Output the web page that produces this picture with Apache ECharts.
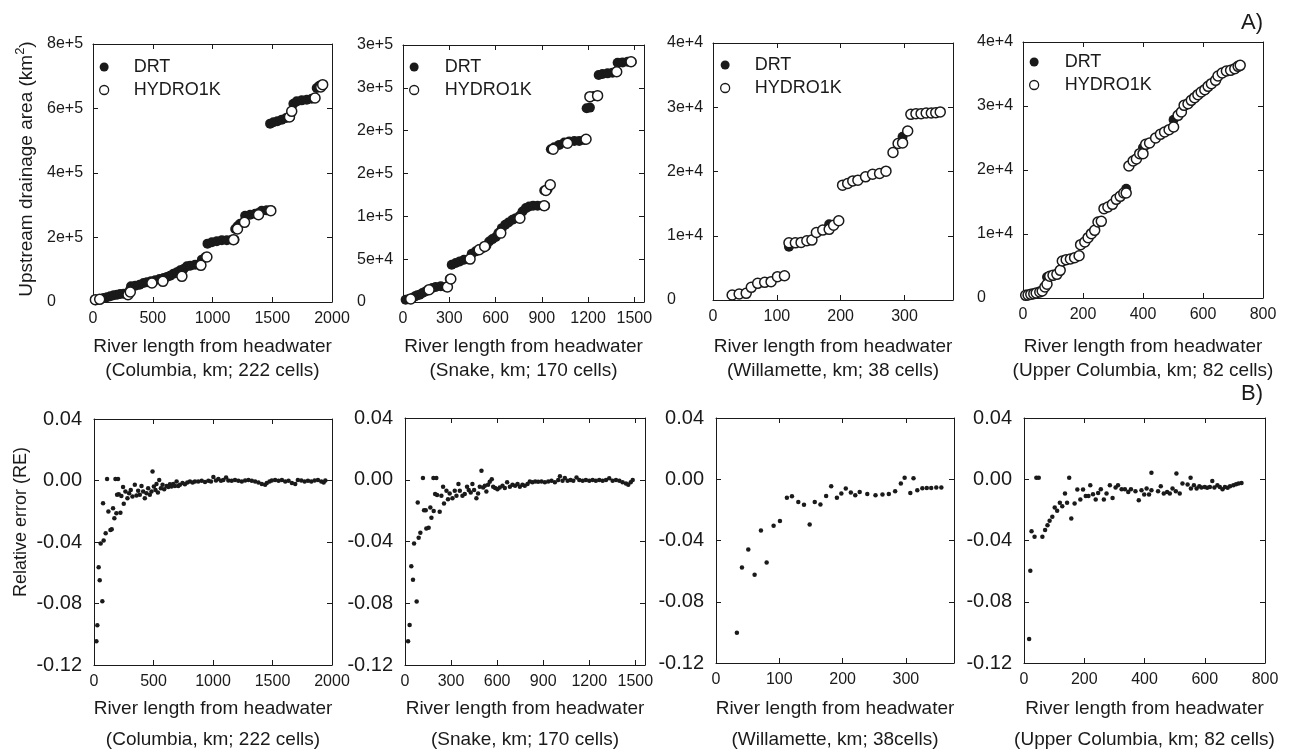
<!DOCTYPE html>
<html>
<head>
<meta charset="utf-8">
<script src="https://cdn.jsdelivr.net/npm/echarts@6/dist/echarts.min.js"></script>
<style>
html,body{margin:0;padding:0;background:#fff;}
#chart{width:1298px;height:750px;}
</style>
</head>
<body>
<div id="chart"></div>
<script>
// ---------------- DATA ----------------
// A) Upstream drainage area (km^2) vs river length (km)
const colX = [20,39,61,89,117,145,173,201,228,256,284,306,318,354,390,423,451,485,521,557,591,618,646,674,702,730,758,786,814,855,897,911,939,958,995,1036,1078,1120,1162,1184,1190,1209,1231,1273,1315,1357,1385,1412,1454,1488,1482,1510,1543,1580,1616,1649,1663,1677,1705,1747,1789,1830,1858,1872,1894,1922];
const colDRT = [5200,7200,9300,12400,14500,17600,20700,22700,24800,25800,25800,35100,48600,50600,53700,58900,61000,64100,67200,71300,74400,77500,81700,87900,92000,98200,102300,110600,112700,115800,114700,131300,138500,180900,185000,188100,191200,191200,193300,193300,226400,234600,242900,267700,270800,273900,276000,283200,284200,284200,553000,557100,560200,565400,570500,573600,591200,615000,622200,625300,627400,630500,632600,663600,670800,673900];
const colHydroX = [20,56,293,312,493,585,744,903,953,1176,1209,1268,1385,1488,1644,1663,1858,1906,1922];
const colHydro = [7200,8300,22700,31000,58900,64100,79600,113700,139500,193300,226400,247000,270800,283200,573600,591200,632600,666700,673900];

const snX = [17,39,61,78,93,108,126,147,169,190,212,245,277,288,303,316,342,368,396,429,446,472,498,520,541,559,580,602,619,641,663,684,710,732,758,775,797,818,844,873,905,922,916,938,953,959,981,1013,1046,1078,1111,1143,1176,1187,1191,1212,1219,1240,1262,1269,1294,1327,1359,1381,1392,1424,1457,1483];
const snDRT = [2700,3500,4700,6600,7800,8500,10500,12400,14400,16300,17500,18300,17500,17500,26800,43500,45500,47400,49300,50100,56300,59100,61800,63000,65700,70700,73400,75800,80400,86200,90100,92900,96000,97900,100600,105700,109600,111500,112300,112300,112300,112300,130100,131700,136800,178300,180700,183400,186100,187300,188000,188000,189200,190000,226100,226900,239700,240500,240900,265000,266100,266900,267700,268800,279300,279700,280500,280500];
const snHydroX = [50,169,288,310,435,494,530,634,758,916,927,955,974,1067,1187,1212,1262,1386,1479];
const snHydro = [3500,14400,17500,26800,50100,61000,64900,80400,97900,112300,130100,136800,178300,185300,190000,239700,240900,268800,280500];

const wiX = [30,41,52,60,70,81,91,101,112,119,129,138,147,155,162,172,182,189,197,203,211,219,227,239,250,261,271,282,290,297,305,310,318,326,334,342,349,356];
const wiDRT = [780,930,1040,1970,2590,2750,2850,3630,3780,8290,8900,8960,9220,9320,10500,10880,11800,11650,12330,17870,18130,18540,18650,19170,19580,19680,20050,22950,24350,25400,26300,28900,29000,29000,29100,29100,29160,29270];
const wiHydro = [780,930,1040,1970,2590,2750,2850,3630,3780,8900,8900,8960,9220,9320,10500,10880,11000,11650,12330,17870,18130,18540,18650,19170,19580,19680,20050,22950,24350,24450,26300,28900,29000,29000,29100,29100,29160,29270];

const ucX = [9,17,26,36,44,56,64,73,80,89,100,113,124,131,144,158,172,187,192,206,217,228,239,250,261,270,283,298,311,324,336,344,353,367,378,389,400,409,422,442,458,472,487,502,517,528,537,550,561,572,583,594,606,617,628,642,650,664,678,692,706,717,724];
const ucDRT = [420,470,570,680,780,940,1090,1720,3280,3390,3540,3700,4320,5780,5990,6090,6300,6610,8330,8750,9430,10050,10570,11870,11980,13960,14220,14630,15420,15880,16400,17080,20620,21400,21720,22550,23500,24010,24220,25000,25570,25940,26300,27860,28540,29060,30100,30360,30880,31300,31770,32190,32550,33070,33490,34010,34690,35160,35470,35570,35830,36200,36350];
const ucHydro = [420,470,570,680,780,940,1090,1720,2140,3390,3540,3700,4320,5780,5990,6090,6300,6610,8330,8750,9430,10050,10570,11870,11980,13960,14220,14630,15420,15880,16400,16400,20620,21400,21720,22550,22550,24010,24220,25000,25570,25940,26300,26720,28540,29060,30100,30360,30880,31300,31770,32190,32550,33070,33490,34010,34690,35160,35470,35570,35830,36200,36350];

// B) Relative error (RE) vs river length (km)
const colReX = [20,28,39,48,56,70,81,76,98,110,121,138,149,160,171,180,188,202,194,208,222,230,244,250,264,281,295,309,323,343,357,371,385,399,413,427,441,455,469,483,492,503,517,525,537,548,562,576,590,610,624,638,652,666,680,694,708,722,744,764,784,806,829,848,876,905,933,961,983,1003,1025,1045,1067,1087,1110,1129,1157,1185,1213,1242,1270,1298,1326,1354,1382,1410,1438,1452,1475,1494,1522,1551,1579,1607,1635,1663,1691,1713,1742,1770,1798,1826,1854,1882,1910,1930,1944];
const colRe = [-0.1046,-0.0941,-0.0565,-0.0648,-0.0409,-0.0785,-0.0391,-0.0148,-0.0343,0.0009,-0.0202,-0.0322,-0.0317,-0.0180,-0.0246,0.0009,-0.0213,0.0009,-0.0093,-0.0089,-0.0209,-0.0100,-0.0043,-0.0152,-0.0072,-0.0115,-0.0083,-0.0061,-0.0104,-0.0028,-0.0098,-0.0067,-0.0093,-0.0035,-0.0072,-0.0115,-0.0083,-0.0050,-0.0093,-0.0072,0.0059,-0.0039,-0.0061,-0.0022,-0.0078,0.0004,-0.0050,-0.0028,-0.0057,-0.0035,-0.0043,-0.0024,-0.0039,-0.0022,-0.0035,-0.0007,-0.0035,-0.0028,-0.0017,-0.0024,-0.0013,-0.0007,-0.0013,-0.0007,-0.0007,-0.0002,-0.0009,-0.0002,-0.0007,0.0022,0,0.0009,-0.0002,0.0004,0.0020,0,-0.0002,0.0004,-0.0002,-0.0007,0,0.0004,-0.0002,-0.0007,-0.0013,-0.0022,-0.0028,-0.0017,-0.0007,0,0.0004,-0.0002,0.0004,-0.0007,-0.0002,-0.0017,-0.0022,0.0004,0,-0.0007,-0.0002,-0.0007,0,0.0004,-0.0007,-0.0013,0];

const snReX = [20,30,41,52,59,76,83,89,100,117,124,135,139,154,165,172,185,187,196,204,209,226,237,248,254,270,280,291,309,324,335,348,357,374,389,404,415,428,439,450,465,476,487,498,509,520,530,541,552,565,574,587,602,617,635,650,665,683,700,717,733,748,765,780,798,813,830,848,867,889,911,933,954,976,998,1009,1026,1041,1059,1078,1096,1117,1135,1157,1178,1200,1222,1243,1265,1287,1309,1330,1352,1374,1396,1417,1439,1454,1470,1483];
const snRe = [-0.1046,-0.0941,-0.0561,-0.0648,-0.0413,-0.0789,-0.0148,-0.0376,-0.0343,0.0011,-0.0198,-0.0198,-0.0315,-0.0311,-0.0180,-0.0246,0.0011,-0.0202,-0.0093,0.0011,-0.0098,-0.0207,-0.0104,-0.0046,-0.0154,-0.0072,-0.0126,-0.0089,-0.0120,-0.0072,-0.0104,-0.0028,-0.0072,-0.0104,-0.0093,-0.0046,-0.0067,-0.0083,-0.0028,-0.0067,-0.0120,-0.0089,-0.0046,0.0059,-0.0050,-0.0039,-0.0076,-0.0033,-0.0013,0.0004,-0.0046,-0.0054,-0.0061,-0.0050,-0.0039,-0.0054,-0.0017,-0.0046,-0.0033,-0.0039,-0.0028,-0.0046,-0.0033,-0.0039,-0.0028,-0.0011,-0.0017,-0.0011,-0.0013,-0.0011,-0.0017,-0.0011,-0.0007,-0.0017,-0.0002,0.0022,-0.0007,0.0011,-0.0007,-0.0002,-0.0007,0.0015,-0.0002,-0.0007,-0.0002,-0.0007,-0.0002,-0.0007,-0.0002,-0.0007,-0.0002,0.0009,-0.0007,-0.0002,-0.0007,-0.0017,-0.0024,-0.0033,-0.0017,-0.0002];

const wiReX = [33,41,51,61,71,80,91,101,112,120,130,139,148,156,165,174,182,191,198,205,213,220,227,239,252,263,273,283,292,298,307,312,318,326,333,340,348,356];
const wiRe = [-0.1002,-0.0576,-0.0459,-0.0624,-0.0335,-0.0544,-0.0304,-0.0272,-0.0120,-0.0111,-0.0148,-0.0167,-0.0296,-0.0148,-0.0165,-0.0109,-0.0046,-0.0120,-0.0093,-0.0061,-0.0087,-0.0104,-0.0083,-0.0096,-0.0104,-0.0100,-0.0096,-0.0078,-0.0028,0.0009,-0.0089,0.0007,-0.0072,-0.0059,-0.0057,-0.0057,-0.0054,-0.0054];

const ucReX = [17,21,25,35,41,49,61,70,78,85,94,102,110,119,127,136,143,150,157,168,177,187,196,205,214,220,229,238,246,255,265,274,285,294,304,312,324,335,346,355,370,381,390,399,407,415,423,423,445,454,464,475,484,493,504,506,517,526,543,553,554,564,573,582,589,600,608,617,625,632,642,650,659,667,676,684,695,704,712,722];
const ucRe = [-0.1044,-0.0597,-0.0339,-0.0376,0.0009,0.0009,-0.0376,-0.0332,-0.0300,-0.0271,-0.0245,-0.0185,-0.0206,-0.0154,-0.0176,-0.0093,-0.0154,0.0009,-0.0256,-0.0158,-0.0067,-0.0132,-0.0067,-0.0109,-0.0109,-0.0039,-0.0098,-0.0132,-0.0089,-0.0065,-0.0132,-0.0093,-0.0039,-0.0122,-0.0054,-0.0039,-0.0065,-0.0065,-0.0083,-0.0065,-0.0078,-0.0137,-0.0072,-0.0100,-0.0061,-0.0100,0.0043,-0.0072,-0.0078,-0.0046,-0.0093,-0.0083,-0.0093,-0.0061,-0.0078,0.0037,-0.0093,-0.0028,-0.0035,0.0009,-0.0061,-0.0039,-0.0061,-0.0046,-0.0054,-0.0050,-0.0056,-0.0050,-0.0011,-0.0054,-0.0039,-0.0050,-0.0065,-0.0050,-0.0056,-0.0046,-0.0039,-0.0033,-0.0028,-0.0024];

// Tick labels
const colAreaTicks = ['0','2e+5','4e+5','6e+5','8e+5'];
const snAreaTicks = ['0','5e+4','1e+5','2e+5','2e+5','3e+5','3e+5'];
const wiAreaTicks = ['0','1e+4','2e+4','3e+4','4e+4'];
const ucAreaTicks = ['0','1e+4','2e+4','3e+4','4e+4'];
const reTicks = ['-0.12','-0.08','-0.04','0.00','0.04'];

// Texts
const xTitle = 'River length from headwater';
const topSubtitles = ['(Columbia, km; 222 cells)','(Snake, km; 170 cells)','(Willamette, km; 38 cells)','(Upper Columbia, km; 82 cells)'];
const bottomSubtitles = ['(Columbia, km; 222 cells)','(Snake, km; 170 cells)','(Willamette, km; 38cells)','(Upper Columbia, km; 82 cells)'];

// ---------------- CHART ----------------
const FONT = '"Liberation Sans", Arial, Helvetica, sans-serif';
const INK = '#1a1a1a';
const zip = (xs, ys) => xs.map((x, i) => [x, ys[i]]);

const panels = [
  {grid:{left:93, top:44, width:239, height:258}, xMax:2000, xInt:500, yMin:0, yMax:8e5, yInt:2e5, yTicks:colAreaTicks, top:true},
  {grid:{left:403, top:45, width:241, height:257}, xMax:1563, xInt:300, yMin:0, yMax:3e5, yInt:5e4, yTicks:snAreaTicks, top:true},
  {grid:{left:713, top:43, width:240, height:257}, xMax:376, xInt:100, yMin:0, yMax:4e4, yInt:1e4, yTicks:wiAreaTicks, top:true},
  {grid:{left:1023, top:42, width:240, height:256}, xMax:800, xInt:200, yMin:0, yMax:4e4, yInt:1e4, yTicks:ucAreaTicks, top:true},
  {grid:{left:94, top:419, width:238, height:246}, xMax:2000, xInt:500, yMin:-0.12, yMax:0.04, yInt:0.04, yTicks:reTicks, top:false},
  {grid:{left:405, top:418, width:240, height:247}, xMax:1563, xInt:300, yMin:-0.12, yMax:0.04, yInt:0.04, yTicks:reTicks, top:false},
  {grid:{left:716, top:418, width:238, height:245}, xMax:376, xInt:100, yMin:-0.12, yMax:0.04, yInt:0.04, yTicks:reTicks, top:false},
  {grid:{left:1024, top:418, width:241, height:245}, xMax:800, xInt:200, yMin:-0.12, yMax:0.04, yInt:0.04, yTicks:reTicks, top:false}
];

const lineStyle = {color: INK, width: 1};
const grids = [], xAxes = [], yAxes = [];
panels.forEach((p, i) => {
  grids.push(Object.assign({containLabel:false}, p.grid));
  const xl = {
    type:'value', gridIndex:i, min:0, max:p.xMax, interval:p.xInt, position:'bottom',
    axisLine:{show:true, onZero:false, lineStyle},
    axisTick:{show:true, inside:true, length:5, lineStyle},
    splitLine:{show:false},
    axisLabel:{show:true, margin:9, fontSize:16, fontFamily:FONT, color:INK,
      formatter: v => (Math.abs(v % p.xInt) < 1e-9 ? String(v) : '')}
  };
  const xt = {
    type:'value', gridIndex:i, min:0, max:p.xMax, interval:p.xInt, position:'top',
    axisLine:{show:true, onZero:false, lineStyle},
    axisTick:{show:true, inside:true, length:5, lineStyle},
    splitLine:{show:false}, axisLabel:{show:false}
  };
  const yl = {
    type:'value', gridIndex:i, min:p.yMin, max:p.yMax, interval:p.yInt, position:'left',
    axisLine:{show:true, onZero:false, lineStyle},
    axisTick:{show:true, inside:true, length:5, lineStyle},
    splitLine:{show:false},
    axisLabel: p.top
      ? {show:true, align:'left', margin:46, fontSize:16, fontFamily:FONT, color:INK,
         formatter: v => p.yTicks[Math.round((v - p.yMin) / p.yInt)] || ''}
      : {show:true, align:'right', margin:12, fontSize:20, fontFamily:FONT, color:INK,
         formatter: v => p.yTicks[Math.round((v - p.yMin) / p.yInt)] || ''}
  };
  const yr = {
    type:'value', gridIndex:i, min:p.yMin, max:p.yMax, interval:p.yInt, position:'right',
    axisLine:{show:true, onZero:false, lineStyle},
    axisTick:{show:true, inside:true, length:5, lineStyle},
    splitLine:{show:false}, axisLabel:{show:false}
  };
  xAxes.push(xl, xt);
  yAxes.push(yl, yr);
});

const drtStyle = {color: INK, opacity: 1};
const hydroStyle = {color:'#ffffff', borderColor: INK, borderWidth: 1.5, opacity: 1};

function areaSeries(i, dx, dy, hx, hy) {
  return [
    {name:'DRT', type:'scatter', xAxisIndex:2*i, yAxisIndex:2*i, symbol:'circle', symbolSize:10,
     itemStyle:drtStyle, data:zip(dx, dy), emphasis:{disabled:true}},
    {name:'HYDRO1K', type:'scatter', xAxisIndex:2*i, yAxisIndex:2*i, symbol:'circle', symbolSize:10,
     itemStyle:hydroStyle, data:zip(hx, hy), emphasis:{disabled:true}}
  ];
}
function reSeries(i, x, y) {
  return {name:'RE', type:'scatter', xAxisIndex:2*i, yAxisIndex:2*i, symbol:'circle', symbolSize:4.5,
    itemStyle:{color: INK, opacity: 1}, data:zip(x, y), emphasis:{disabled:true}};
}

const series = [].concat(
  areaSeries(0, colX, colDRT, colHydroX, colHydro),
  areaSeries(1, snX, snDRT, snHydroX, snHydro),
  areaSeries(2, wiX, wiDRT, wiX, wiHydro),
  areaSeries(3, ucX, ucDRT, ucX, ucHydro),
  [reSeries(4, colReX, colRe), reSeries(5, snReX, snRe), reSeries(6, wiReX, wiRe), reSeries(7, ucReX, ucRe)]
);

const legendPos = [{left:99, top:58, pad:20}, {left:409, top:58, pad:21}, {left:720, top:56, pad:20}, {left:1029, top:53, pad:21}];
const legends = legendPos.map(lp => ({
  left: lp.left, top: lp.top, orient:'vertical', icon:'circle', itemWidth:9, itemHeight:9, itemGap:5,
  selectedMode:false, padding:0,
  textStyle:{fontSize:18, fontFamily:FONT, color:INK, lineHeight:18, padding:[0,0,0,lp.pad]},
  data:[
    {name:'DRT', itemStyle:{color:INK, borderWidth:0, opacity:1}},
    {name:'HYDRO1K', itemStyle:{color:'#ffffff', borderColor:INK, borderWidth:1.3, opacity:1}}
  ]
}));

const textStyleBase = {fontFamily:FONT, fill:INK, align:'center', verticalAlign:'middle'};
const graphics = [];
panels.forEach((p, i) => {
  const cx = p.grid.left + p.grid.width / 2;
  const y1 = p.top ? 347 : 709;
  const y2 = p.top ? 371 : 740;
  const sub = p.top ? topSubtitles[i] : bottomSubtitles[i - 4];
  graphics.push({type:'text', x:cx, y:y1, style:Object.assign({text:xTitle, fontSize:19}, textStyleBase)});
  graphics.push({type:'text', x:cx, y:y2, style:Object.assign({text:sub, fontSize:19}, textStyleBase)});
});
graphics.push({type:'text', x:25, y:169, rotation:Math.PI/2,
  style:Object.assign({text:'{a|Upstream drainage area (km}{s|2}{a|)}', fontSize:19,
    rich:{a:{fontSize:19, fontFamily:FONT, fill:INK, verticalAlign:'bottom'}, s:{fontSize:13, fontFamily:FONT, fill:INK, verticalAlign:'top', padding:[0,0,9,0]}}}, textStyleBase)});
graphics.push({type:'text', x:21, y:522, rotation:Math.PI/2,
  style:Object.assign({text:'Relative error (RE)', fontSize:18}, textStyleBase)});
graphics.push({type:'text', x:1263, y:23, style:{text:'A)', fontSize:22, fontFamily:FONT, fill:INK, align:'right', verticalAlign:'middle'}});
graphics.push({type:'text', x:1263, y:394, style:{text:'B)', fontSize:22, fontFamily:FONT, fill:INK, align:'right', verticalAlign:'middle'}});

const chart = echarts.init(document.getElementById('chart'), null, {renderer:'canvas'});
chart.setOption({
  backgroundColor:'#ffffff',
  animation:false,
  grid: grids,
  xAxis: xAxes,
  yAxis: yAxes,
  legend: legends,
  tooltip: {show:false},
  series: series,
  graphic: graphics
});
</script>
</body>
</html>
